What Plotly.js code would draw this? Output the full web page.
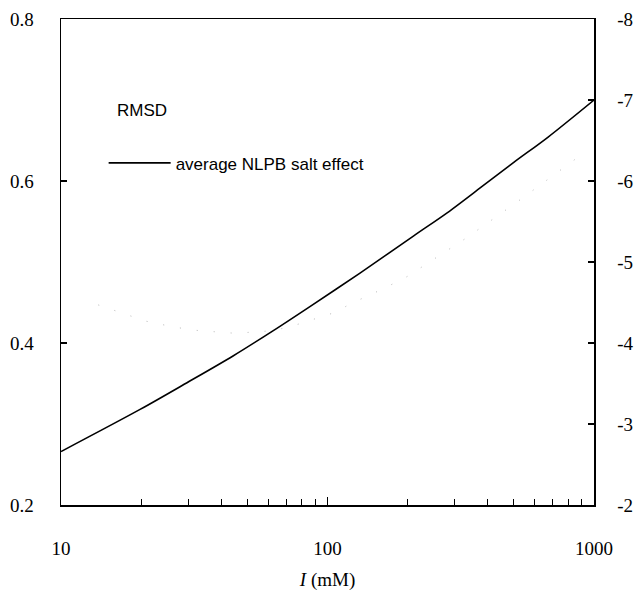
<!DOCTYPE html>
<html>
<head>
<meta charset="utf-8">
<script src="https://cdn.plot.ly/plotly-3.0.1.min.js"></script>
<style>html,body{margin:0;padding:0;background:#fff;}#chart{width:636px;height:598px;}</style>
</head>
<body>
<div id="chart"></div>
<script>
// average NLPB salt effect (right axis, reversed)
const saltI = [10, 19.8, 29.7, 44.2, 62.4, 85.9, 132, 210, 282, 376, 500, 671, 1000];
const saltEffect = [-2.66, -3.18, -3.51, -3.84, -4.15, -4.45, -4.86, -5.32, -5.61, -5.92, -6.23, -6.54, -7.0];
// RMSD (left axis)
const rmsdI = [13.8, 20.8, 25.4, 31.0, 45, 61.4, 72.3, 83, 105, 125, 162, 199, 333, 514, 826, 910];
const rmsd = [0.447, 0.427, 0.421, 0.416, 0.412, 0.415, 0.420, 0.426, 0.437, 0.450, 0.467, 0.482, 0.530, 0.574, 0.624, 0.634];

const xTickVals = [10, 100, 1000];
const xTickText = ['10', '100', '1000'];
const xMinorVals = [20,30,40,50,60,70,80,90,200,300,400,500,600,700,800,900];
const yTickVals = [0.2, 0.4, 0.6, 0.8];
const yTickText = ['0.2', '0.4', '0.6', '0.8'];
const y2TickVals = [-2, -3, -4, -5, -6, -7, -8];
const y2TickText = ['-2', '-3', '-4', '-5', '-6', '-7', '-8'];

const serif = 'Liberation Serif, Times New Roman, serif';
const sans = 'Liberation Sans, Arial, sans-serif';

const traces = [
  {
    x: rmsdI, y: rmsd, type: 'scatter', mode: 'lines', name: 'RMSD',
    line: {color: '#b8b8b8', width: 1, dash: '1px,16px'},
    xaxis: 'x', yaxis: 'y', showlegend: false
  },
  {
    x: saltI, y: saltEffect, type: 'scatter', mode: 'lines', name: 'average NLPB salt effect',
    line: {color: '#000', width: 1.6, shape: 'spline', smoothing: 0.8},
    xaxis: 'x', yaxis: 'y2', showlegend: true
  }
];

const layout = {
  width: 636, height: 598,
  margin: {l: 61, r: 42, t: 19, b: 93},
  paper_bgcolor: '#fff', plot_bgcolor: '#fff',
  showlegend: true,
  legend: {
    x: 0.08, y: 0.703, xanchor: 'left', yanchor: 'middle',
    bgcolor: 'rgba(0,0,0,0)', borderwidth: 0,
    font: {family: sans, size: 17, color: '#000'},
    itemwidth: 62
  },
  xaxis: {
    type: 'log', range: [1, 3],
    tickmode: 'array', tickvals: xTickVals, ticktext: xTickText,
    ticks: 'inside', ticklen: 8, tickwidth: 1.2, tickcolor: '#000',
    minor: {tickmode: 'array', tickvals: xMinorVals, ticks: 'inside', ticklen: 6, tickwidth: 1, tickcolor: '#000'},
    showline: true, linecolor: '#000', linewidth: 1.5, mirror: true,
    showgrid: false, zeroline: false,
    ticklabelstandoff: 26,
    tickfont: {family: serif, size: 19, color: '#000'},
    title: {text: '<i>I</i> (mM)', font: {family: serif, size: 19, color: '#000'}, standoff: 14}
  },
  yaxis: {
    range: [0.2, 0.8],
    tickmode: 'array', tickvals: yTickVals, ticktext: yTickText,
    ticks: 'inside', ticklen: 6, tickwidth: 1.2, tickcolor: '#000',
    showline: true, linecolor: '#000', linewidth: 1.5,
    showgrid: false, zeroline: false,
    ticklabelstandoff: 22,
    tickfont: {family: serif, size: 19, color: '#000'}
  },
  yaxis2: {
    overlaying: 'y', side: 'right', range: [-2, -8],
    tickmode: 'array', tickvals: y2TickVals, ticktext: y2TickText,
    ticks: 'inside', ticklen: 6, tickwidth: 1.2, tickcolor: '#000',
    showline: true, linecolor: '#000', linewidth: 1.5,
    showgrid: false, zeroline: false,
    ticklabelstandoff: 18,
    tickfont: {family: serif, size: 19, color: '#000'}
  },
  annotations: [
    {xref: 'paper', yref: 'paper', x: 0.101, y: 0.812, xanchor: 'left', yanchor: 'middle',
     text: 'RMSD', showarrow: false, font: {family: sans, size: 17, color: '#000'}}
  ]
};

Plotly.newPlot('chart', traces, layout, {displayModeBar: false, staticPlot: true});
</script>
</body>
</html>
